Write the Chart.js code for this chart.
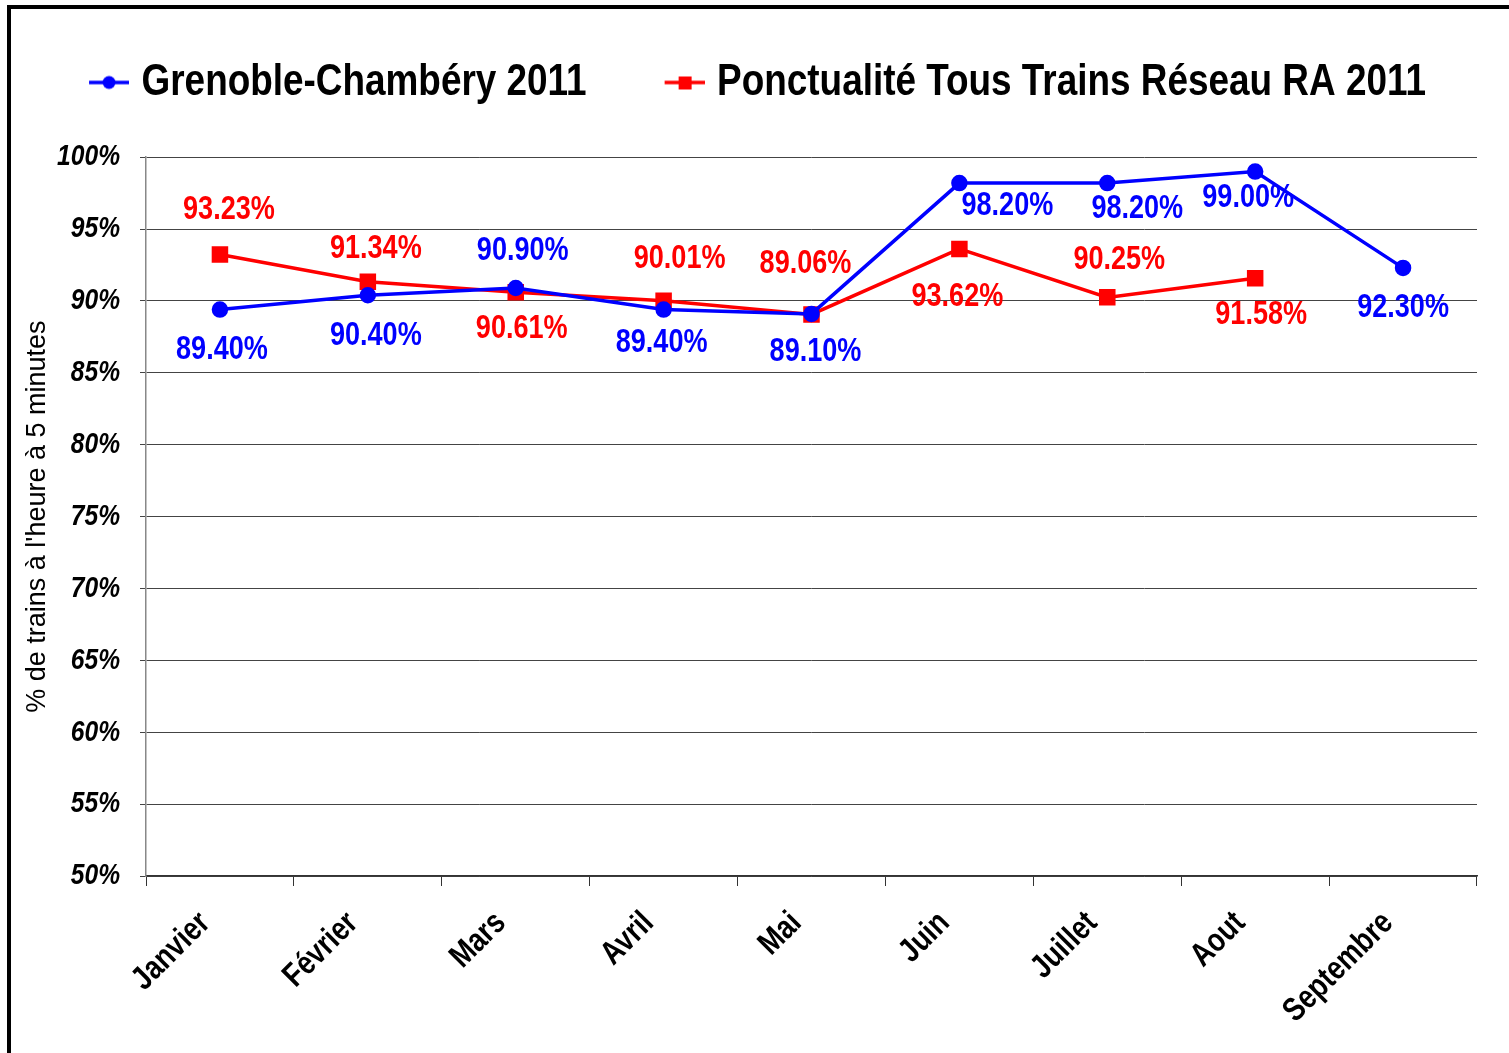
<!DOCTYPE html>
<html>
<head>
<meta charset="utf-8">
<script src="https://cdn.jsdelivr.net/npm/chart.js@4.4.0/dist/chart.umd.min.js"></script>
<style>
  html, body { margin: 0; padding: 0; background: #fff; overflow: hidden; }
  #wrap { position: relative; width: 1509px; height: 1053px; }
  #frame { position: absolute; left: 7px; top: 5px; width: 1600px; height: 1200px;
           border-left: 4px solid #000; border-top: 4px solid #000; box-sizing: border-box; }
  #box { position: absolute; left: 0; top: 0; width: 1509px; height: 1053px; }
</style>
</head>
<body>
<div id="wrap">
  <div id="frame"></div>
  <div id="box"><canvas id="myChart"></canvas></div>
</div>
<script>
const months = ["Janvier", "Février", "Mars", "Avril", "Mai", "Juin", "Juillet", "Aout", "Septembre"];
const grenobleChambery = [89.40, 90.40, 90.90, 89.40, 89.10, 98.20, 98.20, 99.00, 92.30];
const tousTrainsRA = [93.23, 91.34, 90.61, 90.01, 89.06, 93.62, 90.25, 91.58, null];
const yTickValues = [50, 55, 60, 65, 70, 75, 80, 85, 90, 95, 100];

const SANS = "'Liberation Sans', Arial, sans-serif";
const NARROW_K = 0.82; // no Arial Narrow here, so bold text gets squeezed to its width
const BLUE = "#0000ff";
const RED = "#ff0000";

// where each value label sits relative to its point (dx, dy)
const blueLabelOffsets = [[2, 40], [8, 41], [7, -37], [-2, 33], [4, 38], [48, 23], [30, 26], [-7, 26], [0, 40]];
const redLabelOffsets = [[9, -45], [8, -33], [6, 37], [16, -42], [-6, -51], [-2, 48], [12, -37], [6, 37]];

function legendMarker(color, shape) {
  const c = document.createElement("canvas");
  c.width = 88;
  c.height = 20;
  const g = c.getContext("2d");
  g.strokeStyle = color;
  g.lineWidth = 3.5;
  g.beginPath();
  g.moveTo(48, 10);
  g.lineTo(88, 10);
  g.stroke();
  g.fillStyle = color;
  if (shape === "circle") {
    g.beginPath();
    g.arc(68, 10, 6.5, 0, Math.PI * 2);
    g.fill();
  } else {
    g.fillRect(62, 4, 13, 13);
  }
  return c;
}

const narrowBold = {
  id: "narrowBold",
  beforeInit(chart) {
    const c = chart.ctx;
    const fill = c.fillText.bind(c);
    const measure = c.measureText.bind(c);
    c.fillText = function (text, x, y, maxWidth) {
      if (!/bold/.test(c.font)) {
        if (maxWidth === undefined) fill(text, x, y);
        else fill(text, x, y, maxWidth);
        return;
      }
      c.save();
      c.translate(x, y);
      c.scale(NARROW_K, 1);
      if (maxWidth === undefined) fill(text, 0, 0);
      else fill(text, 0, 0, maxWidth / NARROW_K);
      c.restore();
    };
    c.measureText = function (text) {
      const m = measure(text);
      if (!/bold/.test(c.font)) return m;
      return {
        width: m.width * NARROW_K,
        actualBoundingBoxLeft: m.actualBoundingBoxLeft * NARROW_K,
        actualBoundingBoxRight: m.actualBoundingBoxRight * NARROW_K,
        actualBoundingBoxAscent: m.actualBoundingBoxAscent,
        actualBoundingBoxDescent: m.actualBoundingBoxDescent,
      };
    };
  },
};

const valueLabels = {
  id: "valueLabels",
  afterDatasetsDraw(chart) {
    const ctx = chart.ctx;
    ctx.save();
    ctx.font = "bold 33px " + SANS;
    ctx.textAlign = "center";
    ctx.textBaseline = "middle";
    chart.data.datasets.forEach((ds, i) => {
      const meta = chart.getDatasetMeta(i);
      const offsets = i === 0 ? blueLabelOffsets : redLabelOffsets;
      ctx.fillStyle = ds.borderColor;
      meta.data.forEach((pt, j) => {
        const v = ds.data[j];
        if (v === null || v === undefined) return;
        const off = offsets[j];
        ctx.fillText(v.toFixed(2) + "%", pt.x + off[0], pt.y + off[1]);
      });
    });
    ctx.restore();
  },
};

const ctx = document.getElementById("myChart");

new Chart(ctx, {
  type: "line",
  data: {
    labels: months,
    datasets: [
      {
        label: "Grenoble-Chambéry 2011",
        data: grenobleChambery,
        borderColor: BLUE,
        backgroundColor: BLUE,
        borderWidth: 3.5,
        pointStyle: "circle",
        pointRadius: 6.5,
        pointHoverRadius: 6.5,
        tension: 0,
      },
      {
        label: "Ponctualité Tous Trains Réseau RA 2011",
        data: tousTrainsRA,
        borderColor: RED,
        backgroundColor: RED,
        borderWidth: 3.5,
        pointStyle: "rect",
        pointRadius: 9.2,
        pointHoverRadius: 9.2,
        tension: 0,
      },
    ],
  },
  options: {
    responsive: true,
    maintainAspectRatio: false,
    animation: false,
    layout: {
      padding: { top: 20, left: 0, right: 32, bottom: 0 },
    },
    scales: {
      x: {
        offset: true,
        grid: {
          offset: true,
          drawOnChartArea: false,
          tickLength: 10,
          color: "#333",
        },
        border: { color: "#333", width: 1.5 },
        ticks: {
          autoSkip: false,
          maxRotation: 45,
          minRotation: 45,
          padding: 18,
          labelOffset: -15,
          color: "#000",
          font: { family: SANS, size: 33, weight: "bold" },
        },
        afterFit(scale) {
          scale.height = 177;
        },
      },
      y: {
        min: 50,
        max: 100,
        afterBuildTicks(scale) {
          scale.ticks = yTickValues.map((v) => ({ value: v }));
        },
        grid: {
          color: "#444",
          lineWidth: 1,
          tickLength: 6,
        },
        border: { color: "#888", width: 1.5 },
        ticks: {
          padding: 20,
          color: "#000",
          font: { family: SANS, size: 30, weight: "bold", style: "italic" },
          callback: (v) => v + "%",
        },
        title: {
          display: true,
          text: "% de trains à l'heure à 5 minutes",
          color: "#000",
          padding: { top: 21, bottom: 0 },
          font: { family: SANS, size: 27 },
        },
        afterFit(scale) {
          scale.width = 146;
        },
      },
    },
    plugins: {
      legend: {
        display: true,
        position: "top",
        labels: {
          usePointStyle: true,
          pointStyleWidth: 68,
          padding: 40,
          color: "#000",
          font: { family: SANS, size: 45, weight: "bold" },
          generateLabels(chart) {
            return chart.data.datasets.map((ds, i) => ({
              text: ds.label,
              fillStyle: ds.borderColor,
              strokeStyle: ds.borderColor,
              fontColor: "#000",
              lineWidth: 0,
              pointStyle: legendMarker(ds.borderColor, i === 0 ? "circle" : "rect"),
              datasetIndex: i,
              hidden: false,
            }));
          },
        },
      },
      title: {
        display: true,
        text: "",
        weight: 500,
        font: { size: 1 },
        padding: { top: 0, bottom: 41 },
      },
      tooltip: { enabled: false },
    },
  },
  plugins: [narrowBold, valueLabels],
});
</script>
</body>
</html>
